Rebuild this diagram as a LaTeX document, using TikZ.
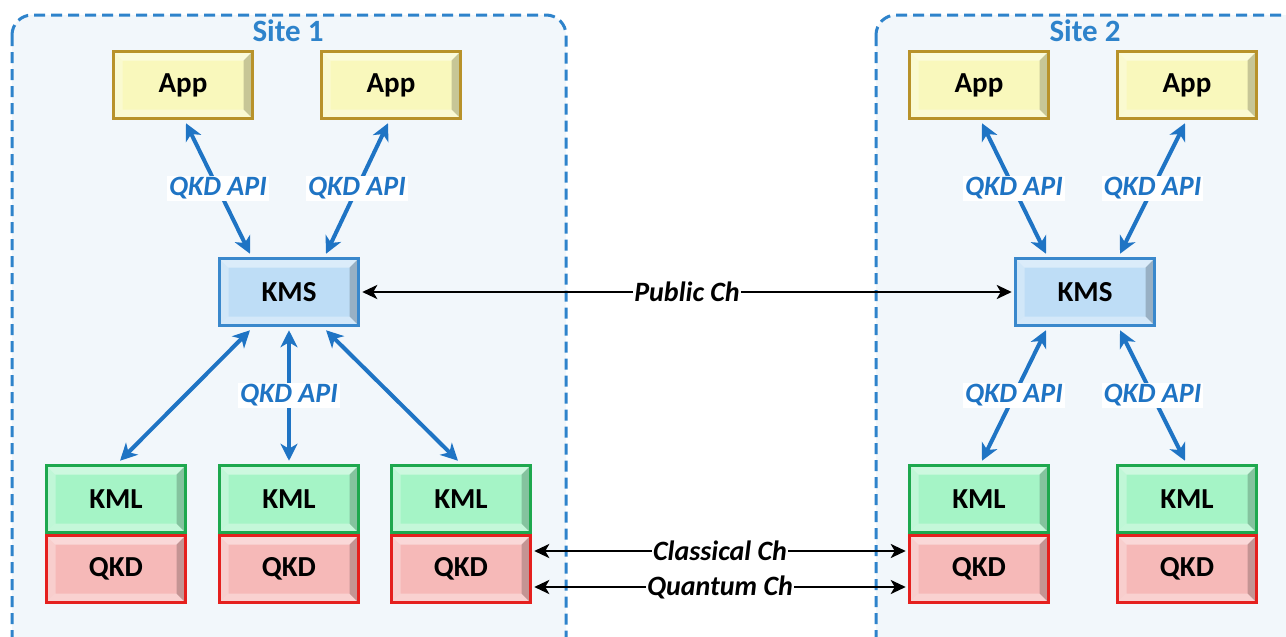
\documentclass[tikz,border=0pt]{standalone}
\usepackage{fontspec}
\setmainfont{Carlito}
\usetikzlibrary{calc,arrows.meta}

\definecolor{sitefill}{HTML}{F2F7FB}
\definecolor{siteline}{HTML}{2E83CB}
\definecolor{apiblue}{HTML}{1F74C4}
\definecolor{appfill}{HTML}{F9F8BC}
\definecolor{appline}{HTML}{B8922A}
\definecolor{kmsfill}{HTML}{BEDDF6}
\definecolor{kmsline}{HTML}{3A88CC}
\definecolor{kmlfill}{HTML}{A5F4C6}
\definecolor{kmlline}{HTML}{1EA84E}
\definecolor{qkdfill}{HTML}{F6B9B8}
\definecolor{qkdline}{HTML}{E5201E}

\tikzset{
  bevel/.style={path picture={
    \coordinate (bnw) at (path picture bounding box.north west);
    \coordinate (bne) at (path picture bounding box.north east);
    \coordinate (bsw) at (path picture bounding box.south west);
    \coordinate (bse) at (path picture bounding box.south east);
    \fill[white,opacity=.45] (bnw) -- (bne) -- ($(bne)+(-9pt,-9pt)$) -- ($(bnw)+(9pt,-9pt)$) -- cycle;
    \fill[white,opacity=.30] (bnw) -- (bsw) -- ($(bsw)+(9pt,9pt)$) -- ($(bnw)+(9pt,-9pt)$) -- cycle;
    \fill[white,opacity=.35] (bsw) -- (bse) -- ($(bse)+(-9pt,9pt)$) -- ($(bsw)+(9pt,9pt)$) -- cycle;
    \fill[black,opacity=.20] (bne) -- (bse) -- ($(bse)+(-9pt,9pt)$) -- ($(bne)+(-9pt,-9pt)$) -- cycle;
  }},
  unit/.style={draw, line width=3.5pt, bevel, minimum width=139pt, minimum height=67pt,
    inner sep=0pt, font=\fontsize{29}{29}\selectfont\bfseries},
  appbox/.style={unit, fill=appfill, draw=appline},
  kmsbox/.style={unit, fill=kmsfill, draw=kmsline},
  kmlbox/.style={unit, fill=kmlfill, draw=kmlline},
  qkdbox/.style={unit, fill=qkdfill, draw=qkdline},
  site/.style={draw=siteline, fill=sitefill, line width=3pt, dash pattern=on 11pt off 6pt,
    rounded corners=20pt},
  sitelabel/.style={text=siteline, font=\fontsize{31}{31}\selectfont\bfseries},
  api/.style={<->, line width=4pt, draw=apiblue,
    >={Stealth[length=17pt,width=17pt,inset=5pt]}},
  apilabel/.style={fill=white, text=apiblue, inner sep=2pt,
    font=\fontsize{28}{28}\selectfont\bfseries\itshape},
  chan/.style={<->, line width=2.6pt, draw=black,
    >={Stealth[length=15pt,width=14pt,inset=4pt]}},
  chanlabel/.style={fill=white, text=black, inner sep=1pt,
    font=\fontsize{28}{28}\selectfont\bfseries\itshape},
}

\begin{document}
\begin{tikzpicture}[x=1pt,y=-1pt]
\useasboundingbox (0,0) rectangle (1286,637);
\clip (0,0) rectangle (1286,637);

% the two sites
\draw[site] (12,15) rectangle (566,665);
\draw[site] (876,15) rectangle (1310,665);
\node[sitelabel] (s1) at (288,31) {Site 1};
\node[sitelabel] (s2) at (1085,31) {Site 2};

% site 1 units
\node[appbox] (a1) at (183,85) {App};
\node[appbox] (a2) at (391,85) {App};
\node[kmsbox] (k1) at (289,292) {KMS};
\node[kmlbox] (l1) at (116,499) {KML};
\node[qkdbox] (q1) at (116,569) {QKD};
\node[kmlbox] (l2) at (289,499) {KML};
\node[qkdbox] (q2) at (289,569) {QKD};
\node[kmlbox] (l3) at (461,499) {KML};
\node[qkdbox] (q3) at (461,569) {QKD};

% site 2 units
\node[appbox] (a3) at (979,85) {App};
\node[appbox] (a4) at (1187,85) {App};
\node[kmsbox] (k2) at (1085,292) {KMS};
\node[kmlbox] (l4) at (979,499) {KML};
\node[qkdbox] (q4) at (979,569) {QKD};
\node[kmlbox] (l5) at (1187,499) {KML};
\node[qkdbox] (q5) at (1187,569) {QKD};

% QKD API links, site 1
\draw[api] ($(a1.south)+(3,3)$) -- node[apilabel]{QKD API} ($(k1.north)+(-39,-3)$);
\draw[api] ($(a2.south)+(-3,3)$) -- node[apilabel]{QKD API} ($(k1.north)+(37,-3)$);
\draw[api] ($(k1.south)+(-39,3)$) -- ($(l1.north)+(4,-3)$);
\draw[api] ($(k1.south)+(0,3)$) -- node[apilabel]{QKD API} ($(l2.north)+(0,-3)$);
\draw[api] ($(k1.south)+(37,3)$) -- ($(l3.north)+(-3,-3)$);

% QKD API links, site 2
\draw[api] ($(a3.south)+(3,3)$) -- node[apilabel]{QKD API} ($(k2.north)+(-39,-3)$);
\draw[api] ($(a4.south)+(-2,3)$) -- node[apilabel]{QKD API} ($(k2.north)+(35,-3)$);
\draw[api] ($(k2.south)+(-39,3)$) -- node[apilabel]{QKD API} ($(l4.north)+(3,-3)$);
\draw[api] ($(k2.south)+(35,3)$) -- node[apilabel]{QKD API} ($(l5.north)+(-2,-3)$);

% channels between the sites
\draw[chan] ($(k1.east)+(2,0)$) -- node[chanlabel]{Public Ch} ($(k2.west)+(-2,0)$);
\draw[chan] ($(q3.east)+(2,-18)$) -- node[chanlabel]{Classical Ch} ($(q4.west)+(-2,-18)$);
\draw[chan] ($(q3.east)+(2,18)$) -- node[chanlabel]{Quantum Ch} ($(q4.west)+(-2,18)$);
\end{tikzpicture}
\end{document}
